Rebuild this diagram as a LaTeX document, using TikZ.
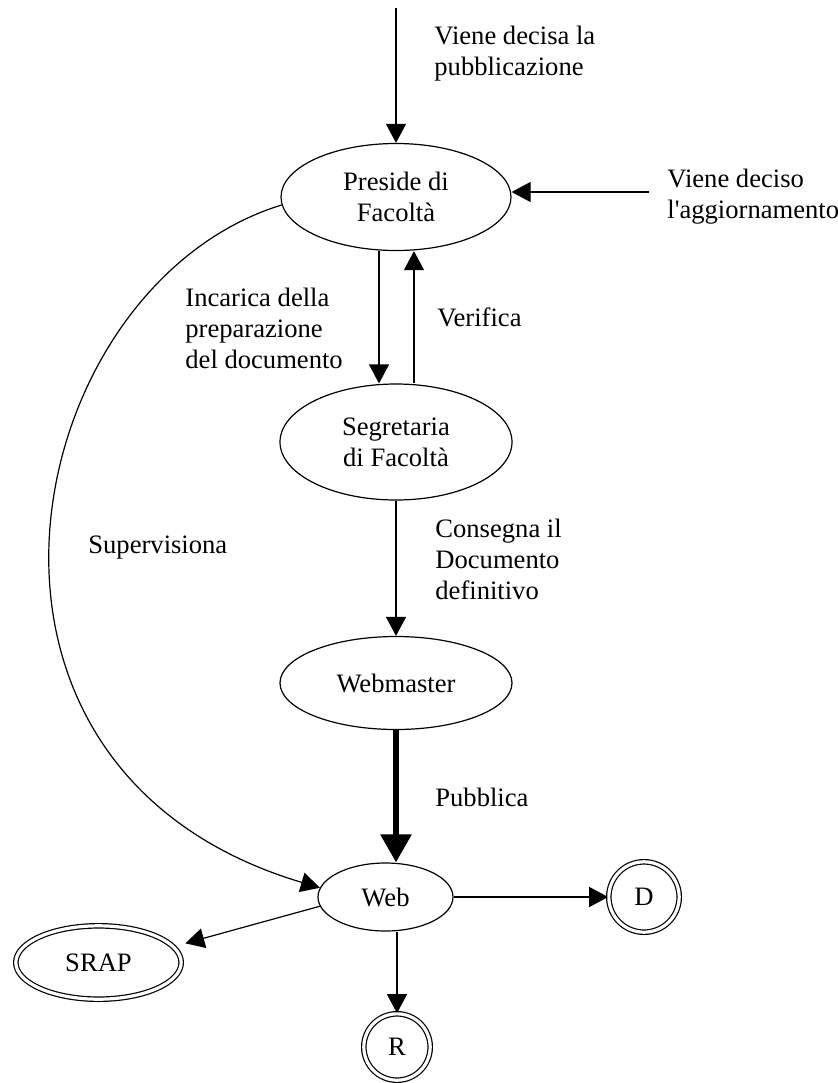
\documentclass[tikz,border=0pt]{standalone}
\usepackage{fontspec}
\setmainfont{Liberation Serif}
\usetikzlibrary{shapes.geometric,arrows.meta,calc}
\begin{document}
\begin{tikzpicture}[x=0.5pt,y=-0.5pt,
  every node/.style={font=\fontsize{13.3}{15.5}\selectfont},
  state/.style={draw, ellipse, line width=0.6pt, inner sep=0pt, align=center},
  final/.style={draw, ellipse, double, double distance=1.6pt, line width=0.6pt, inner sep=0pt, align=center},
  flow/.style={line width=0.6pt, -{Triangle[length=9.5pt,width=10pt]}},
  bigflow/.style={line width=2.8pt, -{Triangle[length=14pt,width=15pt]}},
  lbl/.style={align=left, anchor=west, inner sep=0pt}]
\useasboundingbox (0,0) rectangle (838,1083);

% actors and states
\node[state, minimum width=115pt, minimum height=53.5pt] (preside) at (396,197) {Preside di\\Facoltà};
\node[state, minimum width=116pt, minimum height=58pt] (segr) at (396,442) {Segretaria\\di Facoltà};
\node[state, minimum width=116pt, minimum height=46.5pt] (webm) at (396,683) {Webmaster};
\node[state, minimum width=67.5pt, minimum height=34pt] (web) at (385.5,897) {Web};
\node[final, minimum width=82.7pt, minimum height=36.7pt] (srap) at (98.5,962.5) {SRAP};
\node[final, minimum width=35.2pt, minimum height=35.2pt] (d) at (644,897) {D};
\node[final, minimum width=33.2pt, minimum height=33.2pt] (r) at (397,1047) {R};

% free ends of the incoming flows
\coordinate (topin) at (396,8);
\coordinate (rightin) at (649,192);

% flows
\draw[flow] (topin) -- (preside.north);
\draw[flow] (rightin) -- (rightin -| preside.east);
\draw[flow] ($(preside.south)+(-17,0)$) -- ($(segr.north)+(-17,0)$);
\draw[flow] ($(segr.north)+(18,0)$) -- ($(preside.south)+(18,0)$);
\draw[flow] (segr.south) -- (webm.north);
\draw[bigflow] (webm.south) -- (webm.south |- web.north);
\draw[flow] (web.east) -- (d.west);
\draw[flow] (web.south -| r.north) -- (r.north);
\draw[flow, shorten >=6pt] (web.188) -- (srap.12);
\draw[flow] (preside.184) .. controls (20,285) and (-82,768) .. (web.172);

% flow labels
\node[lbl] (l1) at (434,54) {Viene decisa la\\pubblicazione};
\node[lbl] (l2) at (667,197) {Viene deciso\\l\textquotesingle aggiornamento};
\node[lbl] (l3) at (185,328) {Incarica della\\preparazione\\del documento};
\node[lbl] (l4) at (437,317) {Verifica};
\node[lbl] (l5) at (435,559) {Consegna il\\Documento\\definitivo};
\node[lbl] (l6) at (88,548) {Supervisiona};
\node[lbl] (l7) at (435,797) {Pubblica};
\end{tikzpicture}
\end{document}
